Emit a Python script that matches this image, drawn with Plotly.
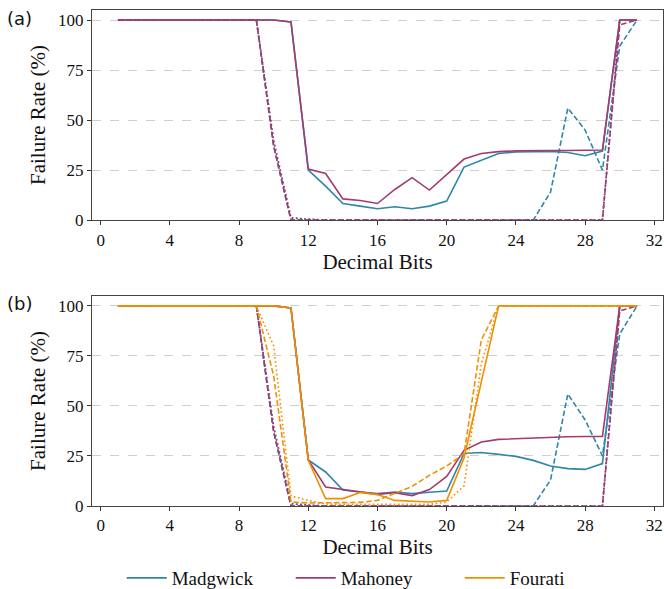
import plotly.graph_objects as go

# ---------------- data ----------------
bits = list(range(1, 32))

# panel (a)
mad_a_solid = [100]*10 + [99, 25, 17, 8.3, 7, 5.7, 6.7, 5.7, 7, 9.5, 26.5, 30, 33.3, 34, 34.3, 34.3, 33.8, 32.2, 34.5, 100, 100]
mah_a_solid = [100]*10 + [99, 25.5, 23.3, 10.6, 9.8, 8.3, 15.3, 21.2, 15, 22.5, 30.5, 33.3, 34.2, 34.6, 34.8, 34.8, 34.8, 34.8, 35, 100, 100]
mad_a_dash = [100]*9 + [37, 0] + [0]*14 + [14, 56, 45, 25, 87, 100]
mah_a_dash = [100]*9 + [37, 0] + [0]*18 + [97.5, 100]
mad_a_dot = [100]*9 + [39, 1, 0.5] + [0]*17 + [100, 100]
mah_a_dot = [100]*9 + [40, 1.2, 0.5] + [0]*17 + [100, 100]

# panel (b)
mad_b_solid = [100]*10 + [99, 23, 17, 8, 7, 6.2, 7, 6.2, 6.9, 7.5, 26.2, 26.7, 25.8, 24.8, 22.8, 20, 18.7, 18.3, 21.2, 100, 100]
mah_b_solid = [100]*10 + [99, 23, 9.5, 8.2, 7, 5.8, 6.6, 5.2, 8.2, 14.8, 27.8, 32, 33.3, 33.7, 34.1, 34.5, 34.6, 34.7, 34.8, 100, 100]
fou_b_solid = [100]*10 + [99, 22.8, 3.7, 3.7, 6.7, 5.7, 2.8, 2.3, 2, 2.8, 24, 62] + [100]*9
mad_b_dash = [100]*9 + [37, 0] + [0]*14 + [13, 56, 43, 25, 86, 100]
mah_b_dash = [100]*9 + [37, 0] + [0]*18 + [97.5, 100]
fou_b_dash = [100]*9 + [65, 2, 1.5, 1.5, 1.5, 1.8, 2.8, 6.2, 9.8, 15.3, 20, 26, 83] + [100]*9
mad_b_dot = [100]*9 + [39, 1, 0.5] + [0]*17 + [100, 100]
mah_b_dot = [100]*9 + [40, 1.2, 0.5] + [0]*17 + [100, 100]
fou_b_dot = [100]*9 + [80, 5, 2.8, 1] + [0.8]*6 + [2, 10, 71] + [100]*9

names = ["Madgwick", "Mahoney", "Fourati"]
colors = {"Madgwick": "#2E86AB", "Mahoney": "#A23B72", "Fourati": "#F18F01"}
x_ticks = [0, 4, 8, 12, 16, 20, 24, 28, 32]
y_ticks = [0, 25, 50, 75, 100]

dashes = {"solid": "solid", "dash": "5.5px,2.6px", "dot": "1.6px,2.6px"}

panel_a = {
    "Madgwick": {"solid": mad_a_solid, "dash": mad_a_dash, "dot": mad_a_dot},
    "Mahoney": {"solid": mah_a_solid, "dash": mah_a_dash, "dot": mah_a_dot},
}
panel_b = {
    "Madgwick": {"solid": mad_b_solid, "dash": mad_b_dash, "dot": mad_b_dot},
    "Mahoney": {"solid": mah_b_solid, "dash": mah_b_dash, "dot": mah_b_dot},
    "Fourati": {"solid": fou_b_solid, "dash": fou_b_dash, "dot": fou_b_dot},
}

fig = go.Figure()

def add_panel(panel, xa, ya, legend):
    for name in names:
        if name not in panel:
            continue
        for style in ["solid", "dash", "dot"]:
            fig.add_trace(go.Scatter(
                x=bits, y=panel[name][style], mode="lines",
                line=dict(color=colors[name], width=1.6, dash=dashes[style]),
                name=name, legendgroup=name,
                showlegend=(legend and style == "solid"),
                xaxis=xa, yaxis=ya, hoverinfo="skip",
            ))

add_panel(panel_a, "x", "y", False)
add_panel(panel_b, "x2", "y2", True)

serif = "Liberation Serif"
axis_common = dict(
    showline=True, linecolor="#444", linewidth=1.1, mirror=True,
    ticks="outside", ticklen=4, tickcolor="#333", tickwidth=1,
    tickfont=dict(family=serif, size=17, color="#111"),
    zeroline=False,
)
xcommon = dict(axis_common, range=[-0.5, 32.5], tickmode="array", tickvals=x_ticks,
               showgrid=False,
               title=dict(text="Decimal Bits", font=dict(family=serif, size=21, color="#111"), standoff=2))
ycommon = dict(axis_common, range=[0, 105], tickmode="array", tickvals=y_ticks,
               showgrid=True, gridcolor="#cfcfcf", gridwidth=1, griddash="dash",
               title=dict(text="Failure Rate (%)", font=dict(family=serif, size=21, color="#111"), standoff=6))

top_a, bot_a = 1.0, 0.5764
top_b, bot_b = 0.4236, 0.0

fig.update_layout(
    width=664, height=589,
    margin=dict(l=92, r=1, t=10, b=83),
    plot_bgcolor="white", paper_bgcolor="white",
    xaxis=dict(xcommon, domain=[0, 1], anchor="y"),
    yaxis=dict(ycommon, domain=[bot_a, top_a], anchor="x"),
    xaxis2=dict(xcommon, domain=[0, 1], anchor="y2"),
    yaxis2=dict(ycommon, domain=[bot_b, top_b], anchor="x2"),
    legend=dict(orientation="h", x=0.496, xanchor="center",
                yref="container", y=0.0187, yanchor="middle",
                font=dict(family=serif, size=19, color="#111"),
                entrywidth=114, itemwidth=40, bgcolor="rgba(0,0,0,0)"),
    annotations=[
        dict(text="(a)", x=-0.152, y=top_a, xref="paper", yref="paper", xanchor="left", yanchor="middle",
             showarrow=False, font=dict(family="DejaVu Sans", size=18, color="#111"), yshift=-8),
        dict(text="(b)", x=-0.152, y=top_b, xref="paper", yref="paper", xanchor="left", yanchor="middle",
             showarrow=False, font=dict(family="DejaVu Sans", size=18, color="#111"), yshift=-8),
    ],
)

fig.write_html("out.html")
